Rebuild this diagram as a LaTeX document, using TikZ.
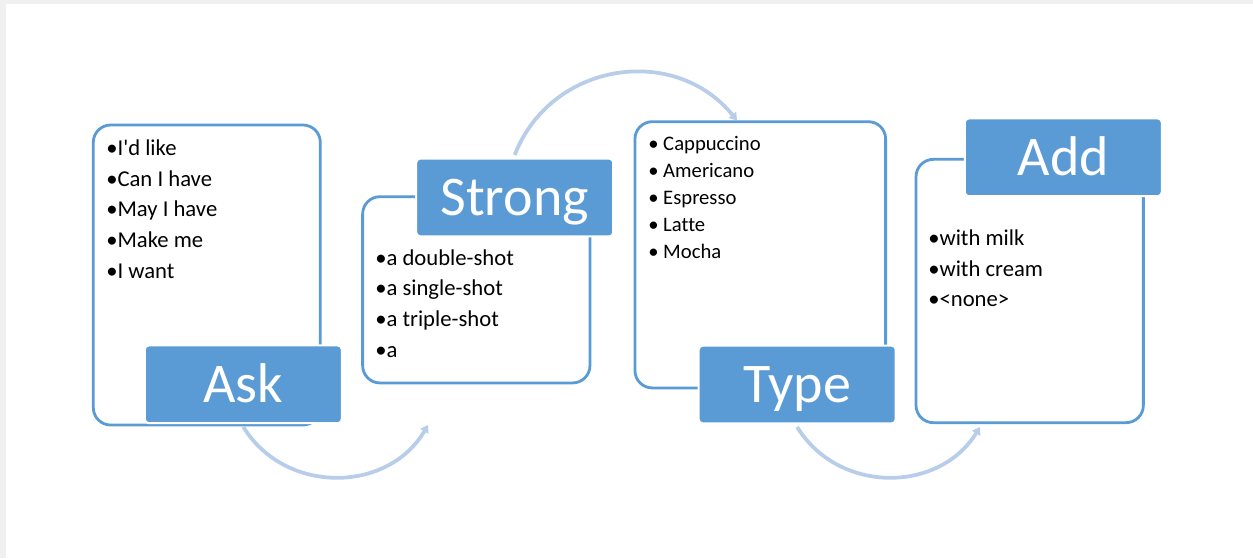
\documentclass[tikz,border=0pt]{standalone}
\usepackage{fontspec}
\setmainfont[Ligatures={TeX,NoCommon}]{Carlito}
\usetikzlibrary{arrows.meta}
\definecolor{stageblue}{RGB}{91,155,213}
\definecolor{flowblue}{RGB}{184,205,233}
\definecolor{framegray}{RGB}{240,240,240}
\tikzset{
  list box/.style={
    rectangle, rounded corners=13pt, draw=stageblue, line width=2.1pt, fill=white, inner sep=0pt
  },
  stage label/.style={
    rectangle, rounded corners=3pt, fill=stageblue, draw=white, line width=1.5pt,
    text=white, font=\fontsize{42}{42}\selectfont, inner sep=0pt,
    minimum width=147.75pt, minimum height=58.3pt, text height=27pt, text depth=0pt
  },
  list text/.style={
    anchor=north west, align=left, inner sep=0pt, font=\fontsize{17}{23}\selectfont
  },
  flow arc/.style={
    draw=flowblue, line width=2.8pt, -{Triangle[length=5.5pt,width=7pt]}, looseness=1.1
  }
}

\begin{document}
\begin{tikzpicture}[x=0.75pt, y=0.75pt]
\fill[framegray] (0,0) rectangle (1253,-558);
\fill[white] (6,-4) rectangle (1253,-558);
\useasboundingbox (0,0) rectangle (1253,-558);

% ------------------------------------------------
% stage 1: Ask (label at the bottom)
% ------------------------------------------------
\begin{scope}
  \node[list box, minimum width=170.25pt, minimum height=225pt] (askBox) at (206.8,-275) {};
  \node[list text] (askList) at (106,-139.5)
    {\textbullet I\textquotesingle d like\\ \textbullet Can I have\\ \textbullet May I have\\
     \textbullet Make me\\ \textbullet I want};
  \node[stage label] (ask) at (243.3,-384.3) {Ask};
\end{scope}

% ------------------------------------------------
% stage 2: Strong (label on top)
% ------------------------------------------------
\begin{scope}
  \node[list box, minimum width=170.5pt, minimum height=139.7pt] (strongBox) at (476.3,-289.8) {};
  \node[list text] (strongList) at (375,-249)
    {\textbullet a double-shot\\ \textbullet a single-shot\\ \textbullet a triple-shot\\ \textbullet a};
  \node[stage label] (strong) at (514.7,-197.5) {Strong};
\end{scope}

% ------------------------------------------------
% stage 3: Type (label at the bottom)
% ------------------------------------------------
\begin{scope}
  \node[list box, minimum width=188pt, minimum height=199.7pt] (typeBox) at (760.3,-254.8) {};
  \node[list text, font=\fontsize{15.5}{20.25}\selectfont] (typeList) at (648,-136.5)
    {\textbullet\ Cappuccino\\ \textbullet\ Americano\\ \textbullet\ Espresso\\
     \textbullet\ Latte\\ \textbullet\ Mocha};
  \node[stage label] (type) at (797.2,-384.5) {Type};
\end{scope}

% ------------------------------------------------
% stage 4: Add (label on top)
% ------------------------------------------------
\begin{scope}
  \node[list box, minimum width=170.5pt, minimum height=197.5pt] (addBox) at (1029.7,-291) {};
  \node[list text] (addList) at (928,-229.5)
    {\textbullet with milk\\ \textbullet with cream\\ \textbullet <none>};
  \node[stage label] (add) at (1063.3,-157.3) {Add};
\end{scope}

% ------------------------------------------------
% arcs between the stages
% ------------------------------------------------
\coordinate (askEnd)    at (428,-425);
\coordinate (strongEnd) at (737,-120.5);
\coordinate (typeEnd)   at (980,-427);

\draw[flow arc] ([yshift=-2pt]ask.south) to[out=301.5, in=239.6] (askEnd);
\draw[flow arc] ([yshift=2pt]strong.north) to[out=68.8, in=129.1, looseness=1.13] (strongEnd);
\draw[flow arc] ([yshift=-2pt]type.south) to[out=301.6, in=238.2] (typeEnd);
\end{tikzpicture}
\end{document}
